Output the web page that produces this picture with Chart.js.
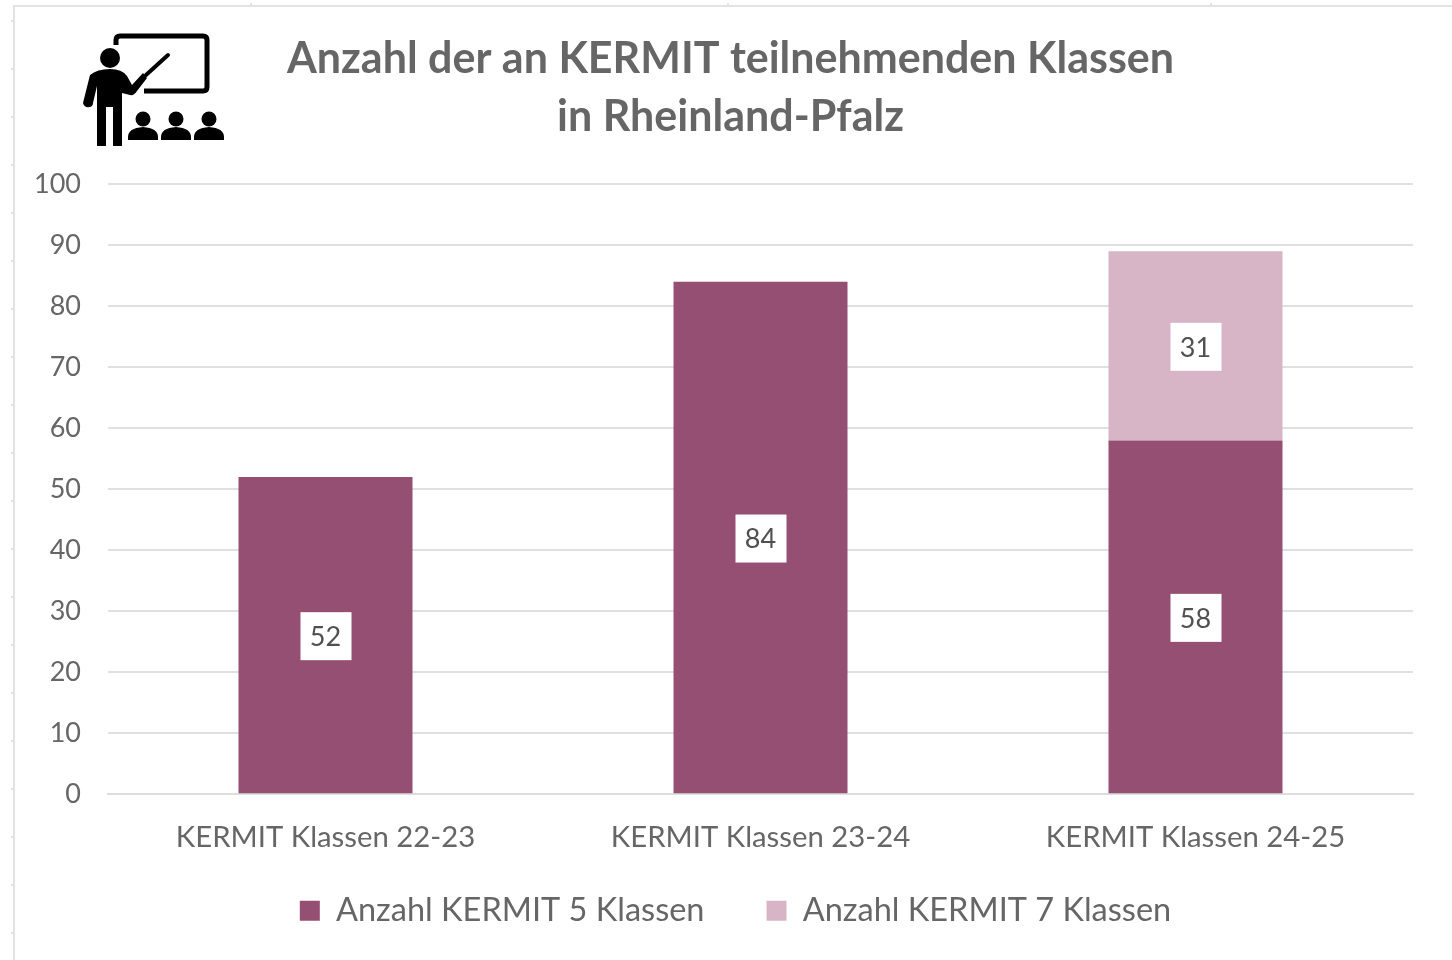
<!DOCTYPE html>
<html>
<head>
<meta charset="utf-8">
<title>KERMIT Klassen</title>
<script src="https://cdn.jsdelivr.net/npm/chart.js@4"></script>
<style>
    html, body { margin: 0; padding: 0; background: #fff; }
    #wrap { position: relative; width: 1452px; height: 960px; overflow: hidden; }
    #rahmen { position: absolute; left: 13px; top: 5px; width: 1500px; height: 1000px; border: 2px solid #e3e3e3; }
    .nub { position: absolute; background: #e3e3e3; }
    #icon { position: absolute; left: 0; top: 0; }
    canvas { position: absolute; left: 0; top: 0; }
</style>
</head>
<body>
<div id="wrap">
    <div id="rahmen"></div>
    <canvas id="klassenChart" width="1452" height="960"></canvas>
    <svg id="icon" width="240" height="160" viewBox="0 0 240 160">
        <path d="M116 45 V40 Q116 36 120 36 H203 Q207 36 207 40 V87 Q207 91 203 91 H144" fill="none" stroke="#000" stroke-width="5"/>
        <circle cx="110" cy="58" r="10"/>
        <path d="M97 146 H106 V107 H113 V146 H122 V93 L130 95 Q134 96 137 91 L147 78 L143 73 L132 85 L127 76 Q122 69 110 69 Q97 69 90 75 L83 103 Q84 108 90 107 Q93 106 93 103 L97 86 Z"/>
        <path d="M146 75 L168 55" stroke="#000" stroke-width="4" stroke-linecap="round"/>
        <g>
            <circle cx="143" cy="119" r="7.5"/><path d="M128 140 V137 Q128 128 143 127 Q158 128 158 137 V140 Z"/>
            <circle cx="176" cy="119" r="7.5"/><path d="M161 140 V137 Q161 128 176 127 Q191 128 191 137 V140 Z"/>
            <circle cx="209" cy="119" r="7.5"/><path d="M194 140 V137 Q194 128 209 127 Q224 128 224 137 V140 Z"/>
        </g>
    </svg>
</div>
<script>
const kategorien = ['KERMIT Klassen 22-23', 'KERMIT Klassen 23-24', 'KERMIT Klassen 24-25'];
const klassen5 = [52, 84, 58];
const klassen7 = [null, null, 31];
const yTicks = [0, 10, 20, 30, 40, 50, 60, 70, 80, 90, 100];
const titelZeilen = ['Anzahl der an KERMIT teilnehmenden Klassen', 'in Rheinland-Pfalz'];

const textGrau = '#666666';
const schrift = 'Lato, Carlito, sans-serif';

// kleine Markierungen am Bildrahmen
const wrap = document.getElementById('wrap');
for (let y = 20; y < 960; y += 48) {
    const n = document.createElement('div');
    n.className = 'nub';
    n.style.cssText = 'left:11px;top:' + y + 'px;width:2px;height:2px';
    wrap.appendChild(n);
}
[250, 727, 1210].forEach(x => {
    const n = document.createElement('div');
    n.className = 'nub';
    n.style.cssText = 'left:' + x + 'px;top:3px;width:2px;height:2px';
    wrap.appendChild(n);
});

// weisse Kaestchen mit den Werten auf den Balken
const wertePlugin = {
    id: 'werte',
    afterDatasetsDraw(chart) {
        const ctx = chart.ctx;
        ctx.save();
        ctx.font = '27px ' + schrift;
        ctx.textAlign = 'center';
        ctx.textBaseline = 'middle';
        chart.data.datasets.forEach((ds, d) => {
            chart.getDatasetMeta(d).data.forEach((bar, i) => {
                if (ds.data[i] == null) return;
                const p = bar.getProps(['x', 'y', 'base'], true);
                const my = (p.y + p.base) / 2;
                ctx.fillStyle = '#ffffff';
                ctx.fillRect(p.x - 25, my - 23, 51, 48);
                ctx.fillStyle = '#505050';
                ctx.fillText(ds.data[i], p.x, my + 2);
            });
        });
        ctx.restore();
    }
};

// Titel und Legende sitzen im Original nicht mittig ueber der Zeichenflaeche
const versatzPlugin = {
    id: 'versatz',
    afterLayout(chart) {
        chart.titleBlock.left += 17;
        chart.titleBlock.right += 17;
        chart.legend.left += 22;
        chart.legend.right += 22;
        chart.legend.top -= 41;
        chart.legend.bottom -= 41;
    }
};

new Chart(document.getElementById('klassenChart').getContext('2d'), {
    type: 'bar',
    data: {
        labels: kategorien,
        datasets: [
            { label: 'Anzahl KERMIT 5 Klassen', data: klassen5, backgroundColor: '#954F72' },
            { label: 'Anzahl KERMIT 7 Klassen', data: klassen7, backgroundColor: '#D7B5C6' }
        ]
    },
    options: {
        responsive: false,
        animation: false,
        layout: { padding: { left: 14, right: 39, top: 30, bottom: -18 } },
        datasets: { bar: { barPercentage: 0.4, categoryPercentage: 1 } },
        plugins: {
            title: {
                display: true,
                text: titelZeilen,
                color: '#666666',
                font: { family: schrift, size: 43, weight: 'bold', lineHeight: 1.35 },
                padding: { top: 0, bottom: 38 }
            },
            legend: {
                position: 'bottom',
                labels: {
                    color: textGrau,
                    font: { family: schrift, size: 32.5 },
                    boxWidth: 20,
                    boxHeight: 20,
                    padding: 62
                }
            },
            tooltip: { enabled: false }
        },
        scales: {
            x: {
                stacked: true,
                grid: { display: false },
                border: { color: '#dedede', width: 2 },
                ticks: { color: textGrau, font: { family: schrift, size: 29.3 }, padding: 18, maxRotation: 0 }
            },
            y: {
                stacked: true,
                min: 0,
                max: 100,
                afterBuildTicks(axis) { axis.ticks = yTicks.map(v => ({ value: v })); },
                afterFit(axis) { axis.width = 94; },
                grid: { color: '#e0e0e0', lineWidth: 2, drawTicks: false },
                border: { display: false },
                ticks: { color: textGrau, font: { family: schrift, size: 27 }, padding: 27 }
            }
        }
    },
    plugins: [wertePlugin, versatzPlugin]
});
</script>
</body>
</html>
